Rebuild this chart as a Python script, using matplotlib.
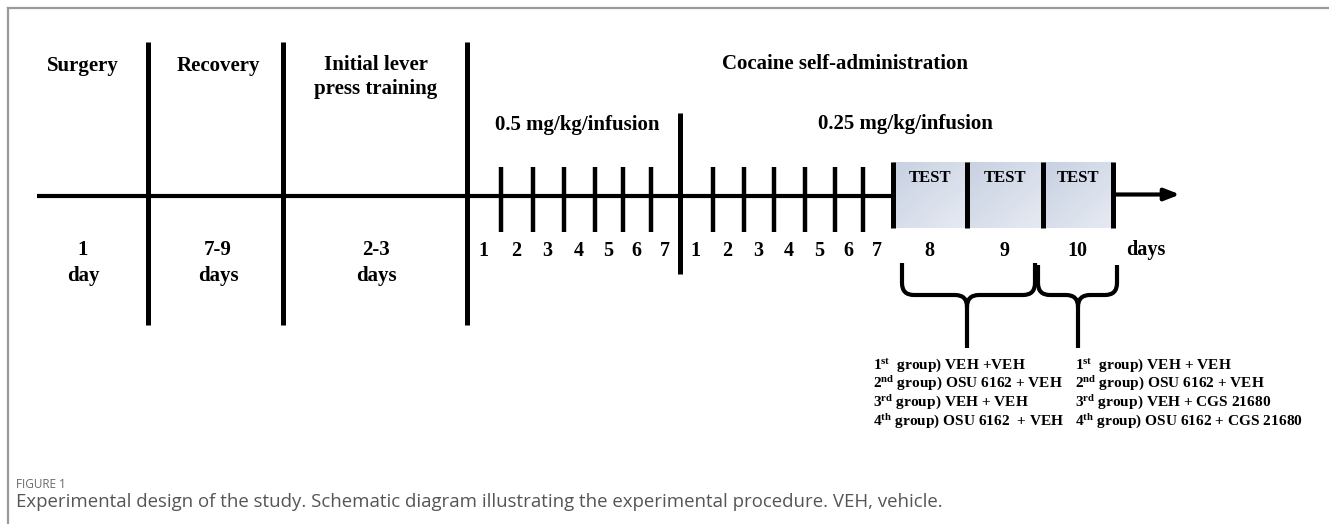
import matplotlib.pyplot as plt
import numpy as np
from matplotlib.colors import LinearSegmentedColormap
from matplotlib.path import Path
from matplotlib.patches import PathPatch

plt.rcParams['mathtext.fontset'] = 'custom'
plt.rcParams['mathtext.rm'] = 'Liberation Serif:bold'
plt.rcParams['mathtext.bf'] = 'Liberation Serif:bold'
plt.rcParams['mathtext.it'] = 'Liberation Serif:bold:italic'

# ---- content ----
phase_titles = ["Surgery", "Recovery", "Initial lever\npress training"]
phase_durations = ["1\nday", "7-9\ndays", "2-3\ndays"]
main_title = "Cocaine self-administration"
dose_labels = ["0.5 mg/kg/infusion", "0.25 mg/kg/infusion"]
block1_days = [1, 2, 3, 4, 5, 6, 7]
block2_days = [1, 2, 3, 4, 5, 6, 7]
test_days = [8, 9, 10]
test_label = "TEST"
groups_day89 = [r"1$^{\rm st}$  group) VEH +VEH",
                r"2$^{\rm nd}$ group) OSU 6162 + VEH",
                r"3$^{\rm rd}$ group) VEH + VEH",
                r"4$^{\rm th}$ group) OSU 6162  + VEH"]
groups_day10 = [r"1$^{\rm st}$  group) VEH + VEH",
                r"2$^{\rm nd}$ group) OSU 6162 + VEH",
                r"3$^{\rm rd}$ group) VEH + CGS 21680",
                r"4$^{\rm th}$ group) OSU 6162 + CGS 21680"]
caption_head = "FIGURE 1"
caption = ("Experimental design of the study. Schematic diagram illustrating "
           "the experimental procedure. VEH, vehicle.")

# ---- layout (pixel coordinates) ----
W, H = 1329, 524
line_y = 195.5
phase_edges = [37, 148, 283, 467]
phase_mid = [83, 218, 376]
block1_edges = [467, 501, 533, 564, 595, 623, 651, 680]
block2_edges = [680, 713, 744, 774, 805, 835, 863, 893]
test_edges = [893, 967, 1043, 1113]

serif = 'Liberation Serif'
fig = plt.figure(figsize=(W / 100, H / 100), dpi=100)
ax = fig.add_axes([0, 0, 1, 1])
ax.set_xlim(0, W)
ax.set_ylim(H, 0)
ax.axis('off')

# frame (top and left only visible)
ax.plot([7.5, W], [7.5, 7.5], color='#9a9a9a', lw=1.6)
ax.plot([7.5, 7.5], [7.5, H], color='#9a9a9a', lw=1.6)

# shaded test boxes
cmap = LinearSegmentedColormap.from_list('tb', ['#c8d1e2', '#e6eaf2'])
gx, gy = np.meshgrid(np.linspace(0, 1, 40), np.linspace(0, 1, 20))
for a, b in zip(test_edges[:-1], test_edges[1:]):
    ax.imshow((gx + gy) / 2, cmap=cmap, extent=(a, b, 228, 162),
              origin='upper', aspect='auto', zorder=1)
ax.set_xlim(0, W)
ax.set_ylim(H, 0)

# main time line
ax.plot([phase_edges[0], test_edges[0]], [line_y, line_y], color='black',
        lw=3, solid_capstyle='butt', zorder=3)
ax.annotate('', xy=(1180, line_y - 1), xytext=(test_edges[-1], line_y - 1),
            arrowprops=dict(arrowstyle='-|>,head_length=0.9,head_width=0.35',
                            lw=3, color='black', shrinkA=0, shrinkB=0),
            zorder=3)

# phase dividers
for x in phase_edges[1:]:
    ax.plot([x, x], [42, 325], color='black', lw=3.6, solid_capstyle='butt', zorder=3)
ax.plot([block1_edges[-1]] * 2, [113, 274], color='black', lw=3.6,
        solid_capstyle='butt', zorder=3)

# small day ticks
for x in block1_edges[1:-1] + block2_edges[1:-1]:
    ax.plot([x, x], [167, 232], color='black', lw=3.2, solid_capstyle='butt', zorder=3)
for x in test_edges:
    ax.plot([x, x], [162, 228], color='black', lw=3.6, solid_capstyle='butt', zorder=3)

# phase titles and durations
for xm, t, d in zip(phase_mid, phase_titles, phase_durations):
    ax.text(xm, 66 if '\n' not in t else 77, t, ha='center', va='center',
            family=serif, weight='bold', fontsize=15, linespacing=1.3)
    ax.text(xm, 263, d, ha='center', va='center', family=serif,
            weight='bold', fontsize=15, linespacing=1.35)

ax.text(845, 64, main_title, ha='center', va='center', family=serif,
        weight='bold', fontsize=15)
ax.text(577, 125, dose_labels[0], ha='center', va='center', family=serif,
        weight='bold', fontsize=15)
ax.text(905, 124, dose_labels[1], ha='center', va='center', family=serif,
        weight='bold', fontsize=15)

# day numbers
for edges, days in [(block1_edges, block1_days), (block2_edges, block2_days),
                    (test_edges, test_days)]:
    for a, b, d in zip(edges[:-1], edges[1:], days):
        ax.text((a + b) / 2 - 1, 251, str(d), ha='center', va='center',
                family=serif, weight='bold', fontsize=14.5)
ax.text(1146, 250, "days", ha='center', va='center', family=serif,
        weight='bold', fontsize=14.5)

# TEST labels
for a, b in zip(test_edges[:-1], test_edges[1:]):
    ax.text((a + b) / 2, 178, test_label, ha='center', va='center',
            family=serif, weight='bold', fontsize=12)


def brace(x0, x1, xm, ytop, ymid, ybot, r=12):
    verts = [(x0, ytop), (x0, ymid - r), (x0, ymid), (x0 + r, ymid),
             (xm - r, ymid), (xm, ymid), (xm, ymid + r), (xm, ybot),
             (xm, ymid + r), (xm, ymid), (xm + r, ymid),
             (x1 - r, ymid), (x1, ymid), (x1, ymid - r), (x1, ytop)]
    codes = [Path.MOVETO, Path.LINETO, Path.CURVE3, Path.CURVE3,
             Path.LINETO, Path.CURVE3, Path.CURVE3, Path.LINETO,
             Path.MOVETO, Path.CURVE3, Path.CURVE3,
             Path.LINETO, Path.CURVE3, Path.CURVE3, Path.LINETO]
    ax.add_patch(PathPatch(Path(verts, codes), fill=False, lw=3,
                           edgecolor='black', capstyle='butt', zorder=3))


brace(902, 1035, 967, 263, 295, 348)
brace(1038, 1117, 1078, 265, 295, 348)

# group lists
row_y = [365, 384, 403, 422]
for y, t1, t2 in zip(row_y, groups_day89, groups_day10):
    ax.text(873, y, t1, ha='left', va='center', family=serif,
            weight='bold', fontsize=11.1)
    ax.text(1075, y, t2, ha='left', va='center', family=serif,
            weight='bold', fontsize=11.1)

# caption
ax.text(16, 484, caption_head, ha='left', va='center', family='Open Sans',
        fontsize=8.5, color='#6a6a6a')
ax.text(16, 502, caption, ha='left', va='center', family='Open Sans',
        fontsize=13.4, color='#555555')

fig.savefig('out.png', dpi=100)
